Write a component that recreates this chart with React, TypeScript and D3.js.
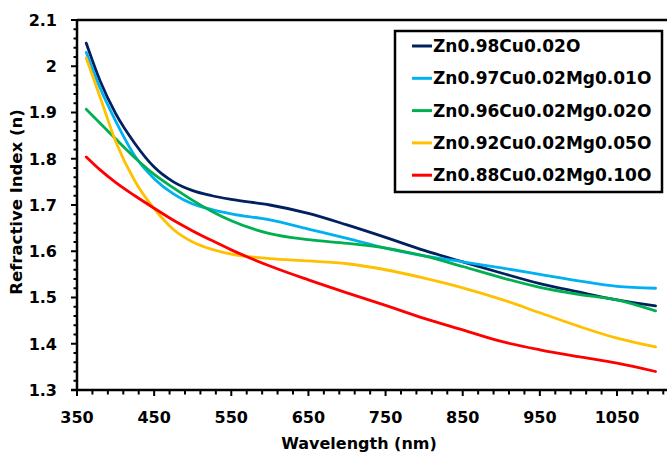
import React from "react";
import * as d3 from "d3";

// Wavelength grid (nm) shared by every sample
const wavelengths = [362, 380, 400, 425, 450, 475, 500, 525, 550, 600, 650, 700, 750, 800, 850, 900, 950, 1000, 1050, 1100];

// Refractive index n for each composition
const nZnCu = [2.05, 1.968, 1.898, 1.833, 1.782, 1.75, 1.731, 1.72, 1.712, 1.7, 1.682, 1.657, 1.63, 1.602, 1.577, 1.553, 1.53, 1.512, 1.495, 1.482];
const nMg01 = [2.03, 1.953, 1.882, 1.806, 1.757, 1.724, 1.702, 1.69, 1.681, 1.668, 1.648, 1.628, 1.607, 1.59, 1.577, 1.564, 1.55, 1.536, 1.524, 1.52];
const nMg02 = [1.907, 1.877, 1.843, 1.802, 1.766, 1.737, 1.71, 1.686, 1.666, 1.638, 1.625, 1.617, 1.607, 1.59, 1.567, 1.543, 1.522, 1.507, 1.495, 1.471];
const nMg05 = [2.018, 1.933, 1.838, 1.752, 1.692, 1.647, 1.62, 1.604, 1.594, 1.584, 1.579, 1.573, 1.56, 1.542, 1.521, 1.496, 1.467, 1.438, 1.412, 1.393];
const nMg10 = [1.804, 1.776, 1.749, 1.72, 1.693, 1.667, 1.644, 1.623, 1.603, 1.568, 1.538, 1.51, 1.483, 1.455, 1.43, 1.405, 1.387, 1.372, 1.358, 1.34];

const seriesNames = [
  "Zn0.98Cu0.02O",
  "Zn0.97Cu0.02Mg0.01O",
  "Zn0.96Cu0.02Mg0.02O",
  "Zn0.92Cu0.02Mg0.05O",
  "Zn0.88Cu0.02Mg0.10O",
];
const seriesValues = [nZnCu, nMg01, nMg02, nMg05, nMg10];
const seriesColors = ["#002060", "#00b0f0", "#00b050", "#ffc000", "#ff0000"];

const xTickLabels = [350, 450, 550, 650, 750, 850, 950, 1050];
const yTickLabels = [1.3, 1.4, 1.5, 1.6, 1.7, 1.8, 1.9, 2, 2.1];

const W = 667;
const H = 452;
const left = 77;
const top = 20;
const bottom = 390;

const FONT = "'DejaVu Sans', Arial, sans-serif";

export default function App() {
  const x = d3.scaleLinear().domain([350, 1050]).range([left, 617]);
  const y = d3.scaleLinear().domain([1.3, 2.1]).range([bottom, top]);

  const line = d3
    .line<[number, number]>()
    .x((d) => x(d[0]))
    .y((d) => y(d[1]))
    .curve(d3.curveMonotoneX);

  const xMinor = d3.range(350, 1111, 20);
  const yMinor = d3.range(0, 41).map((i) => 1.3 + i * 0.02);

  return (
    <div style={{ position: "absolute", left: 0, top: 0 }}>
      <svg width={W} height={H} style={{ display: "block", background: "#fff" }}>
        {/* data curves */}
        {seriesValues.map((vals, i) => (
          <path
            key={seriesNames[i]}
            d={line(wavelengths.map((w, j) => [w, vals[j]]) as [number, number][]) || ""}
            fill="none"
            stroke={seriesColors[i]}
            strokeWidth={2.8}
            strokeLinecap="round"
          />
        ))}

        {/* frame top */}
        <line x1={left} x2={W} y1={top} y2={top} stroke="#000" strokeWidth={2.5} />

        {/* y axis */}
        <line x1={left} x2={left} y1={top - 1} y2={bottom + 1} stroke="#000" strokeWidth={2.5} />
        {yMinor.map((v, i) => (
          <line
            key={"ym" + i}
            x1={left - (i % 5 === 0 ? 6 : 3.5)}
            x2={left}
            y1={y(v)}
            y2={y(v)}
            stroke="#000"
            strokeWidth={2}
          />
        ))}
        {yTickLabels.map((v) => (
          <text
            key={"yl" + v}
            x={57}
            y={y(v)}
            dy="0.36em"
            textAnchor="end"
            fontFamily={FONT}
            fontWeight="bold"
            fontSize={16}
          >
            {String(v)}
          </text>
        ))}

        {/* x axis */}
        <line x1={left - 6} x2={W} y1={bottom} y2={bottom} stroke="#000" strokeWidth={2.5} />
        {xMinor.map((v) => (
          <line
            key={"xm" + v}
            x1={x(v)}
            x2={x(v)}
            y1={bottom}
            y2={bottom + ((v - 350) % 100 === 0 ? 6 : 4.5)}
            stroke="#000"
            strokeWidth={2}
          />
        ))}
        {xTickLabels.map((v) => (
          <text
            key={"xl" + v}
            x={x(v)}
            y={423}
            textAnchor="middle"
            fontFamily={FONT}
            fontWeight="bold"
            fontSize={16}
          >
            {v}
          </text>
        ))}

        {/* axis titles */}
        <text
          x={359}
          y={449}
          textAnchor="middle"
          fontFamily={FONT}
          fontWeight="bold"
          fontSize={16}
        >
          Wavelength (nm)
        </text>
        <text
          transform={`translate(22,202) rotate(-90)`}
          textAnchor="middle"
          fontFamily={FONT}
          fontWeight="bold"
          fontSize={16.5}
        >
          Refractive Index (n)
        </text>

        {/* legend */}
        <rect x={395} y={31} width={267} height={161} fill="#fff" stroke="#000" strokeWidth={2.5} />
        {seriesNames.map((name, i) => {
          const cy = 46 + i * 32.3;
          return (
            <g key={"lg" + name}>
              <line x1={412} x2={432} y1={cy} y2={cy} stroke={seriesColors[i]} strokeWidth={3} />
              <text
                x={433}
                y={cy}
                dy="0.36em"
                fontFamily={FONT}
                fontWeight="bold"
                fontSize={17}
              >
                {name}
              </text>
            </g>
          );
        })}
      </svg>
    </div>
  );
}
